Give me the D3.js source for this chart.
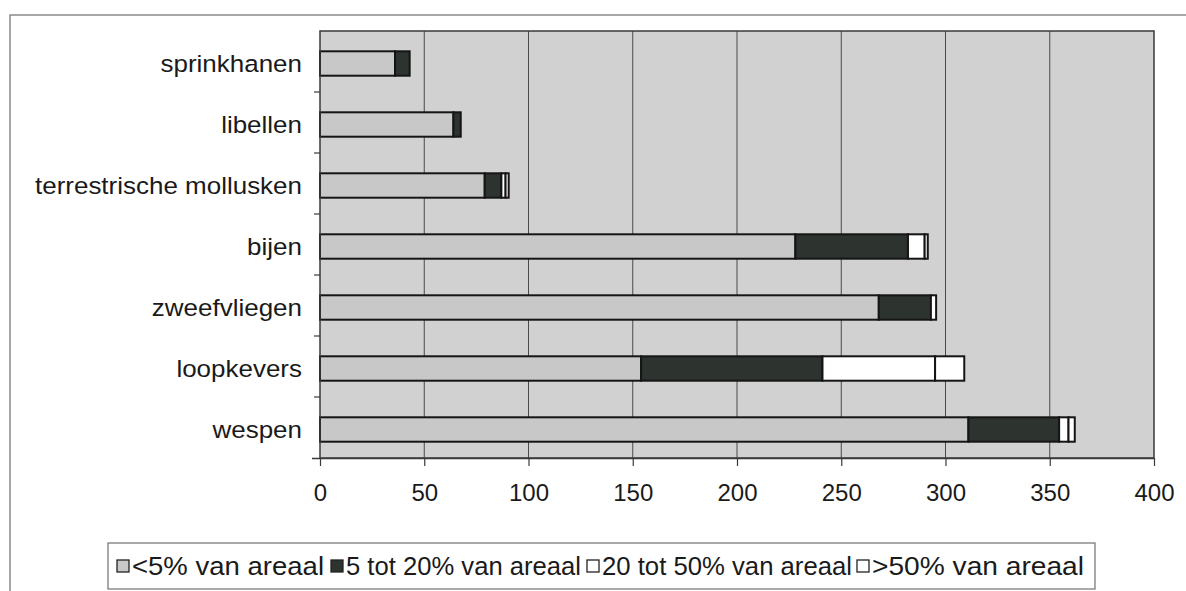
<!DOCTYPE html>
<html>
<head>
<meta charset="utf-8">
<script src="https://cdn.jsdelivr.net/npm/d3@7"></script>
<style>
  html, body { margin: 0; padding: 0; background: #fff; }
  svg text { font-family: "Liberation Sans", Arial, sans-serif; fill: #1a1a1a; }
</style>
</head>
<body>
<svg id="chart" width="1186" height="591"></svg>
<script>
// ---- data ----
const categories = ["sprinkhanen", "libellen", "terrestrische mollusken", "bijen", "zweefvliegen", "loopkevers", "wespen"];
const seriesNames = ["<5% van areaal", "5 tot 20% van areaal", "20 tot 50% van areaal", ">50% van areaal"];
const lt5   = [36, 64, 79, 228, 268, 154, 311];
const p5_20 = [7, 3.5, 8, 54, 25, 87, 43.5];
const p20_50 = [0, 0, 2, 8, 2.5, 54, 4.5];
const gt50  = [0, 0, 1.5, 1.5, 0, 14, 3];
const xTicks = [0, 50, 100, 150, 200, 250, 300, 350, 400];

const seriesColors = ["#c8c8c8", "#2d332e", "#ffffff", "#ffffff"];

const svg = d3.select("#chart");

// outer frame
svg.append("path").attr("d", "M10,600 L10,15 L1200,15")
  .attr("fill", "none").attr("stroke", "#8a8a8a").attr("stroke-width", 1.5);

const plot = { left: 320, right: 1154, top: 31, bottom: 458 };

const x = d3.scaleLinear().domain([0, 400]).range([plot.left, plot.right]);
const y = d3.scaleBand().domain(categories).range([plot.top, plot.bottom]).paddingInner(0.6).paddingOuter(0.3);
const yBand = d3.scaleBand().domain(categories).range([plot.top, plot.bottom]);

// plot background
svg.append("rect").attr("x", plot.left).attr("y", plot.top)
  .attr("width", plot.right - plot.left).attr("height", plot.bottom - plot.top)
  .attr("fill", "#d1d1d1");

// vertical gridlines
svg.append("g").selectAll("line").data(xTicks.filter(d => d > 0 && d < 400)).join("line")
  .attr("x1", d => x(d)).attr("x2", d => x(d))
  .attr("y1", plot.top).attr("y2", plot.bottom)
  .attr("stroke", "#4a4a4a").attr("stroke-width", 1);

// stacked data
const rows = categories.map((c, i) => ({ cat: c, v: [lt5[i], p5_20[i], p20_50[i], gt50[i]] }));
const keys = [0, 1, 2, 3];
const stack = d3.stack().keys(keys).value((d, k) => d.v[k]);
const stacked = stack(rows);

const gBars = svg.append("g");
stacked.forEach((layer, li) => {
  gBars.append("g").selectAll("rect").data(layer.filter(d => d[1] - d[0] > 0)).join("rect")
    .attr("x", d => x(d[0]))
    .attr("y", d => y(d.data.cat) + 2)
    .attr("width", d => x(d[1]) - x(d[0]))
    .attr("height", y.bandwidth())
    .attr("fill", seriesColors[li])
    .attr("stroke", "#151515")
    .attr("stroke-width", 2);
});

// plot border
svg.append("rect").attr("x", plot.left).attr("y", plot.top)
  .attr("width", plot.right - plot.left).attr("height", plot.bottom - plot.top)
  .attr("fill", "none").attr("stroke", "#3a3a3a").attr("stroke-width", 1.5);

// x axis
const xAxis = d3.axisBottom(x).tickValues(xTicks).tickSize(8).tickPadding(18);
const gx = svg.append("g").attr("transform", `translate(0,${plot.bottom})`).call(xAxis);
gx.select(".domain").attr("d", `M${plot.left - 8},0.5H${plot.right}`).attr("stroke", "#3a3a3a").attr("stroke-width", 1.5);
gx.selectAll(".tick line").attr("stroke", "#3a3a3a").attr("stroke-width", 1.2);
gx.selectAll("text").attr("font-size", 24).attr("font-family", "Liberation Sans, Arial, sans-serif").attr("fill", "#1a1a1a");

// y axis ticks at band boundaries
const bounds = categories.slice(1).map(c => yBand(c));
svg.append("g").selectAll("line").data(bounds).join("line")
  .attr("x1", plot.left - 6).attr("x2", plot.left)
  .attr("y1", d => d).attr("y2", d => d)
  .attr("stroke", "#3a3a3a").attr("stroke-width", 1.2);

// category labels (slightly widened, like the scanned original)
const catLabels = svg.append("g").selectAll("text").data(categories).join("text")
  .attr("x", plot.left - 18)
  .attr("y", d => y(d) + 2 + y.bandwidth() / 2)
  .attr("dy", "0.36em")
  .attr("text-anchor", "end")
  .attr("font-size", 24.5)
  .text(d => d);
catLabels.each(function() {
  const w = this.getComputedTextLength();
  d3.select(this).attr("textLength", w * 1.06).attr("lengthAdjust", "spacingAndGlyphs");
});

// legend
const legend = { x: 108, y: 543, w: 987, h: 46 };
svg.append("rect").attr("x", legend.x).attr("y", legend.y).attr("width", legend.w).attr("height", legend.h)
  .attr("fill", "#fff").attr("stroke", "#707070").attr("stroke-width", 1.2);
const legendX = [117, 331, 587, 857];
const legendTextW = [192, 235, 250, 212];
const lg = svg.append("g").selectAll("g").data(seriesNames).join("g")
  .attr("transform", (d, i) => `translate(${legendX[i]},${legend.y + legend.h / 2})`);
lg.append("rect").attr("x", 0).attr("y", -6).attr("width", 12).attr("height", 12)
  .attr("fill", (d, i) => seriesColors[i]).attr("stroke", "#222").attr("stroke-width", 1.3);
lg.append("text").attr("x", 15).attr("dy", "0.36em").attr("font-size", 25.5)
  .attr("textLength", (d, i) => legendTextW[i]).attr("lengthAdjust", "spacingAndGlyphs")
  .text(d => d);
</script>
</body>
</html>
